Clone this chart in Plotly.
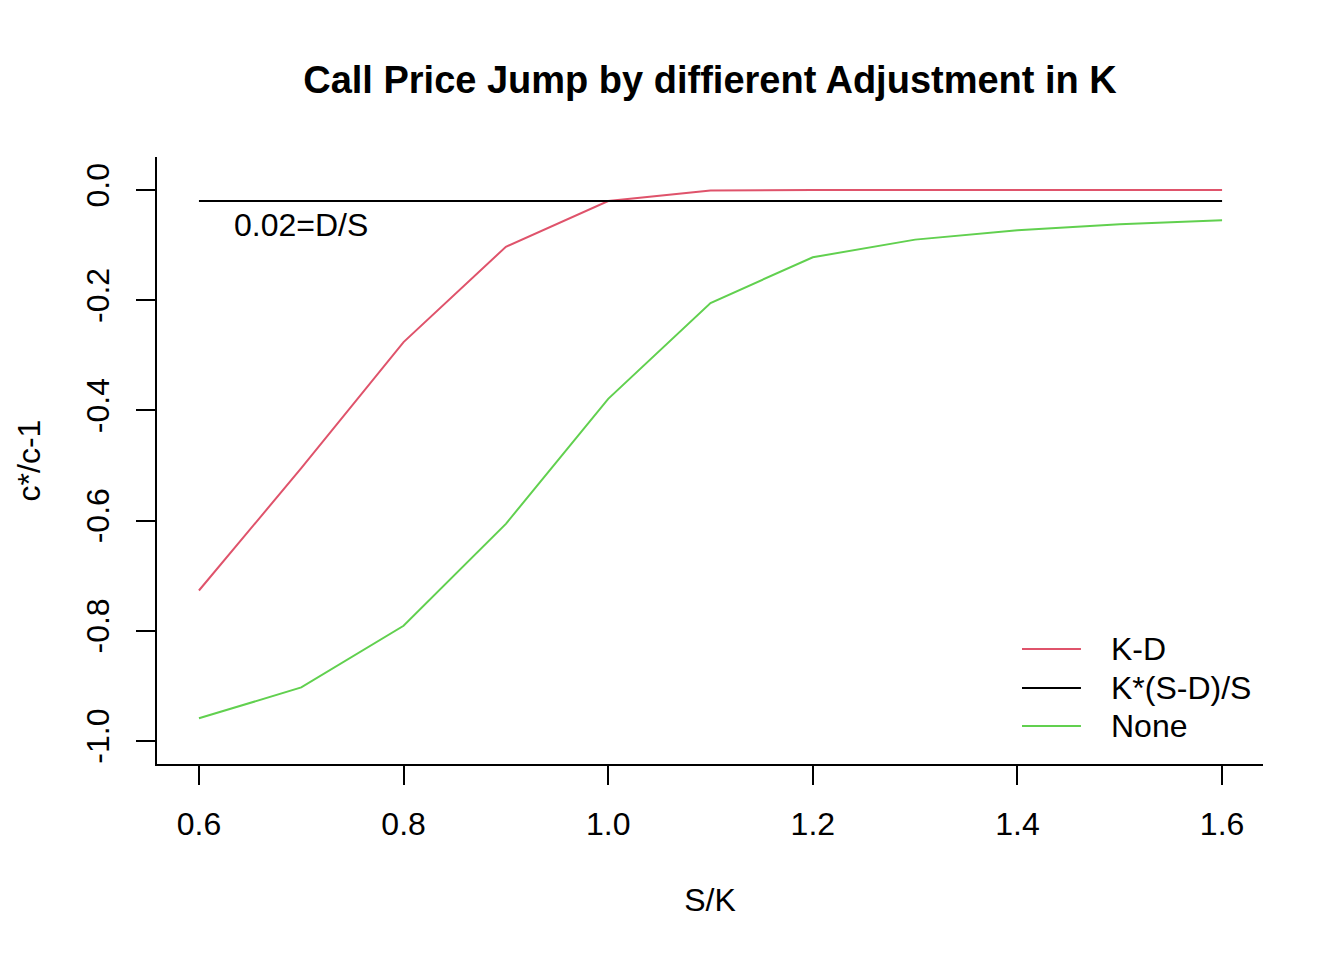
import plotly.graph_objects as go

# Data
s_over_k = [0.6, 0.7, 0.8, 0.9, 1.0, 1.1, 1.2, 1.3, 1.4, 1.5, 1.6]
k_minus_d = [-0.727, -0.505, -0.276, -0.103, -0.020, -0.001, 0.0, 0.0, 0.0, 0.0, 0.0]
k_scaled = [-0.02] * 11
none_adj = [-0.959, -0.903, -0.791, -0.606, -0.379, -0.205, -0.122, -0.090, -0.073, -0.062, -0.055]

series_names = ["K-D", "K*(S-D)/S", "None"]
series_colors = ["#DF536B", "#000000", "#61D04F"]

x_ticks = [0.6, 0.8, 1.0, 1.2, 1.4, 1.6]
x_tick_labels = ["0.6", "0.8", "1.0", "1.2", "1.4", "1.6"]
y_ticks = [0.0, -0.2, -0.4, -0.6, -0.8, -1.0]
y_tick_labels = ["0.0", "-0.2", "-0.4", "-0.6", "-0.8", "-1.0"]

FONT = "Liberation Sans, Arial, sans-serif"
FS = 32

fig = go.Figure()
for name, ys, col in zip(series_names, [k_minus_d, k_scaled, none_adj], series_colors):
    fig.add_trace(go.Scatter(x=s_over_k, y=ys, mode="lines", name=name,
                             line=dict(color=col, width=2), showlegend=False))

fig.add_annotation(x=0.632, y=-0.063, xref="x", yref="y", text="0.02=D/S",
                   showarrow=False, xanchor="left", yanchor="middle",
                   font=dict(family=FONT, size=FS, color="black"))

# Legend (R style, no box) drawn in paper coordinates
legend_rows_y = [0.1895, 0.1252, 0.0626]
for name, col, ly in zip(series_names, series_colors, legend_rows_y):
    fig.add_shape(type="line", xref="paper", yref="paper",
                  x0=0.7821, x1=0.8354, y0=ly, y1=ly,
                  line=dict(color=col, width=2))
    fig.add_annotation(x=0.8608, y=ly, xref="paper", yref="paper", text=name,
                       showarrow=False, xanchor="left", yanchor="middle",
                       font=dict(family=FONT, size=FS, color="black"))

fig.update_layout(
    width=1344, height=960,
    paper_bgcolor="white", plot_bgcolor="white",
    margin=dict(l=149, r=89, t=149, b=204),
    font=dict(family=FONT, color="black"),
    title=dict(text="<b>Call Price Jump by diffierent Adjustment in K</b>",
               x=(149 + 1255) / 2 / 1344, xanchor="center",
               y=1 - 72 / 960, yanchor="middle",
               font=dict(family=FONT, size=38, color="black")),
    showlegend=False,
    xaxis=dict(range=[0.559, 1.640], showgrid=False, zeroline=False,
               showline=True, linecolor="black", linewidth=2, mirror=False,
               tickmode="array", tickvals=x_ticks, ticktext=x_tick_labels,
               ticks="outside", ticklen=19, tickwidth=2, tickcolor="black",
               tickfont=dict(family=FONT, size=FS, color="black"),
               ticklabelstandoff=12,
               title=dict(text="S/K", font=dict(family=FONT, size=FS), standoff=47)),
    yaxis=dict(range=[-1.042, 0.060], showgrid=False, zeroline=False,
               showline=True, linecolor="black", linewidth=2, mirror=False,
               tickmode="array", tickvals=y_ticks, ticktext=y_tick_labels,
               ticks="outside", ticklen=19, tickwidth=2, tickcolor="black",
               tickangle=-90,
               tickfont=dict(family=FONT, size=FS, color="black"),
               ticklabelstandoff=14,
               title=dict(text="c*/c-1", font=dict(family=FONT, size=FS), standoff=30)),
)

fig.write_html("out.html")
